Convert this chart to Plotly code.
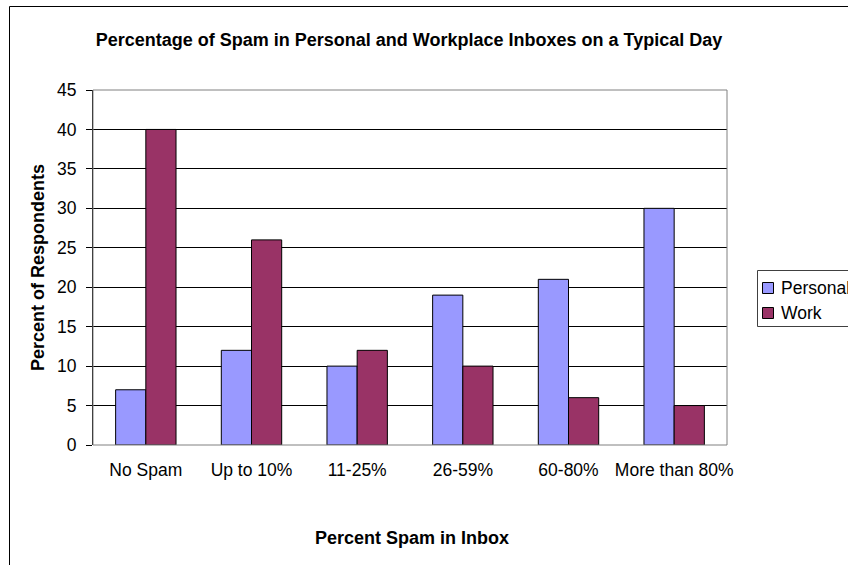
import plotly.graph_objects as go

categories = ["No Spam", "Up to 10%", "11-25%", "26-59%", "60-80%", "More than 80%"]
personal = [7, 12, 10, 19, 21, 30]
work = [40, 26, 12, 10, 6, 5]
y_ticks = [0, 5, 10, 15, 20, 25, 30, 35, 40, 45]
series_names = ["Personal", "Work"]
series_colors = ["#9999FF", "#993366"]

W, H = 848, 565
ML, MR, MT, MB = 93, W - 727, 90, H - 445
PW, PH = W - ML - MR, H - MT - MB

def px_x(p):
    return (p - ML) / PW

def px_y(p):
    return (H - MB - p) / PH

FONT = "Liberation Sans, Arial, sans-serif"
TICK_SIZE = 17.5
TITLE_SIZE = 18

fig = go.Figure()
for name, vals, col in zip(series_names, [personal, work], series_colors):
    fig.add_trace(go.Bar(name=name, x=categories, y=vals,
                         marker=dict(color=col, line=dict(color="black", width=1))))

shapes = [
    # outer chart border (only left/top visible)
    dict(type="rect", xref="paper", yref="paper",
         x0=px_x(9.5), x1=px_x(W + 20), y0=px_y(H + 20), y1=px_y(6.5),
         line=dict(color="black", width=1), fillcolor="rgba(0,0,0,0)", layer="below"),
    # plot area border (gray)
    dict(type="rect", xref="paper", yref="paper", x0=0, x1=1, y0=0, y1=1,
         line=dict(color="#808080", width=1), fillcolor="rgba(0,0,0,0)", layer="above"),
    # legend box
    dict(type="rect", xref="paper", yref="paper",
         x0=px_x(757.5), x1=px_x(W + 20), y0=px_y(326.5), y1=px_y(270.5),
         line=dict(color="#404040", width=1), fillcolor="white", layer="above"),
]
annotations = [
    dict(text="<b>Percent Spam in Inbox</b>", xref="paper", yref="paper",
         x=px_x(412), y=px_y(538), xanchor="center", yanchor="middle", showarrow=False,
         font=dict(size=TITLE_SIZE, family=FONT, color="black")),
    dict(text="<b>Percent of Respondents</b>", xref="paper", yref="paper",
         x=px_x(38), y=px_y(268), xanchor="center", yanchor="middle", showarrow=False,
         textangle=-90, font=dict(size=TITLE_SIZE, family=FONT, color="black")),
]
legend_rows = [288, 313]
for name, col, yc in zip(series_names, series_colors, legend_rows):
    shapes.append(dict(type="rect", xref="paper", yref="paper",
                       x0=px_x(762.5), x1=px_x(773.5), y0=px_y(yc + 5.5), y1=px_y(yc - 5.5),
                       line=dict(color="black", width=1), fillcolor=col, layer="above"))
    annotations.append(dict(text=name, xref="paper", yref="paper",
                            x=px_x(779), y=px_y(yc), xanchor="left", yanchor="middle",
                            showarrow=False,
                            font=dict(size=TICK_SIZE, family=FONT, color="black")))

fig.update_layout(
    width=W, height=H,
    margin=dict(l=ML, r=MR, t=MT, b=MB, autoexpand=False),
    paper_bgcolor="white", plot_bgcolor="white",
    barmode="group", bargap=0.4286, bargroupgap=0,
    font=dict(family=FONT, size=TICK_SIZE, color="black"),
    title=dict(text="<b>Percentage of Spam in Personal and Workplace Inboxes on a Typical Day</b>",
               x=px_x(409), xref="paper", xanchor="center", y=1 - 40 / H, yanchor="middle",
               font=dict(size=TITLE_SIZE, family=FONT)),
    showlegend=False,
    shapes=shapes,
    annotations=annotations,
)

fig.update_xaxes(
    showgrid=False, showline=False, ticks="", ticklabelstandoff=12,
    tickfont=dict(size=TICK_SIZE, family=FONT),
)
fig.update_yaxes(
    range=[0, 45], tickvals=y_ticks, ticktext=[str(v) for v in y_ticks],
    showgrid=True, gridcolor="black", gridwidth=1,
    showline=True, linecolor="black", linewidth=1,
    ticks="outside", ticklen=6, tickcolor="black", ticklabelstandoff=6,
    tickfont=dict(size=TICK_SIZE, family=FONT),
    zeroline=False,
)

fig.write_html("out.html", config={"displayModeBar": False},
               post_script="document.body.style.margin='0';document.body.style.overflow='hidden';")
